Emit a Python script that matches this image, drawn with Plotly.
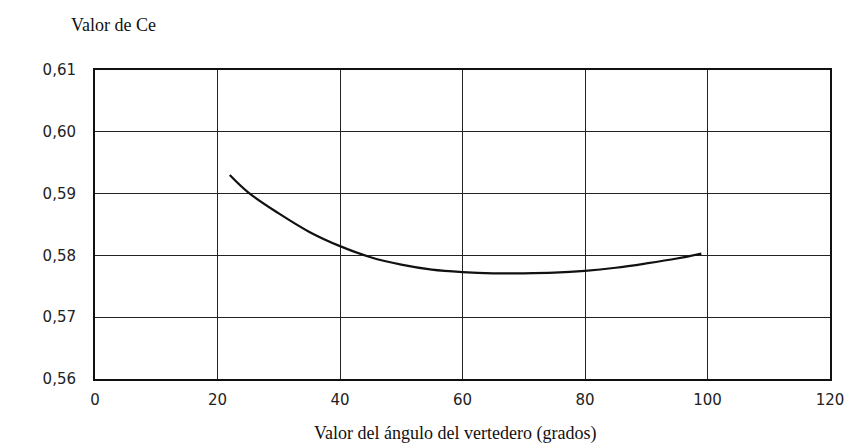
import plotly.graph_objects as go

# Discharge coefficient Ce versus weir notch angle
angulo = [22, 25, 30, 35, 40, 45, 50, 55, 60, 65, 70, 75, 80, 85, 90, 95, 99]
ce = [0.5930, 0.5902, 0.5868, 0.5838, 0.5815, 0.5797, 0.5785, 0.5777, 0.5773,
      0.5771, 0.5771, 0.5772, 0.5775, 0.5780, 0.5787, 0.5795, 0.5803]

x_ticks = [0, 20, 40, 60, 80, 100, 120]
y_ticks = [0.56, 0.57, 0.58, 0.59, 0.60, 0.61]

tick_font = dict(family="DejaVu Sans", size=15, color="#222")
serif = dict(family="Liberation Serif", size=18, color="#111")

fig = go.Figure()
fig.add_trace(go.Scatter(
    x=angulo, y=ce, mode="lines",
    line=dict(color="#111", width=2.2, shape="spline", smoothing=1.0),
    hoverinfo="skip", showlegend=False,
))

fig.update_layout(
    width=864, height=446,
    margin=dict(l=95, r=34, t=70, b=67),
    paper_bgcolor="white", plot_bgcolor="white",
    separators=", ",
    xaxis=dict(
        range=[0, 120], tickvals=x_ticks, tickformat="d",
        showgrid=True, gridcolor="#222", gridwidth=1.3,
        showline=True, linecolor="#111", linewidth=2, mirror=True,
        zeroline=False, ticks="", tickfont=tick_font, ticklabelstandoff=6,
    ),
    yaxis=dict(
        range=[0.56, 0.61], tickvals=y_ticks, tickformat=".2f",
        showgrid=True, gridcolor="#222", gridwidth=1.3,
        showline=True, linecolor="#111", linewidth=2, mirror=True,
        zeroline=False, ticks="", tickfont=tick_font, ticklabelstandoff=14,
    ),
    annotations=[
        dict(text="Valor de Ce", xref="paper", yref="paper",
             x=-0.036, y=1.146, xanchor="left", yanchor="middle",
             showarrow=False, font=serif),
        dict(text="Valor del ángulo del vertedero (grados)", xref="paper", yref="paper",
             x=0.49, y=-0.175, xanchor="center", yanchor="middle",
             showarrow=False, font=serif),
    ],
)

fig.write_html("out.html")
